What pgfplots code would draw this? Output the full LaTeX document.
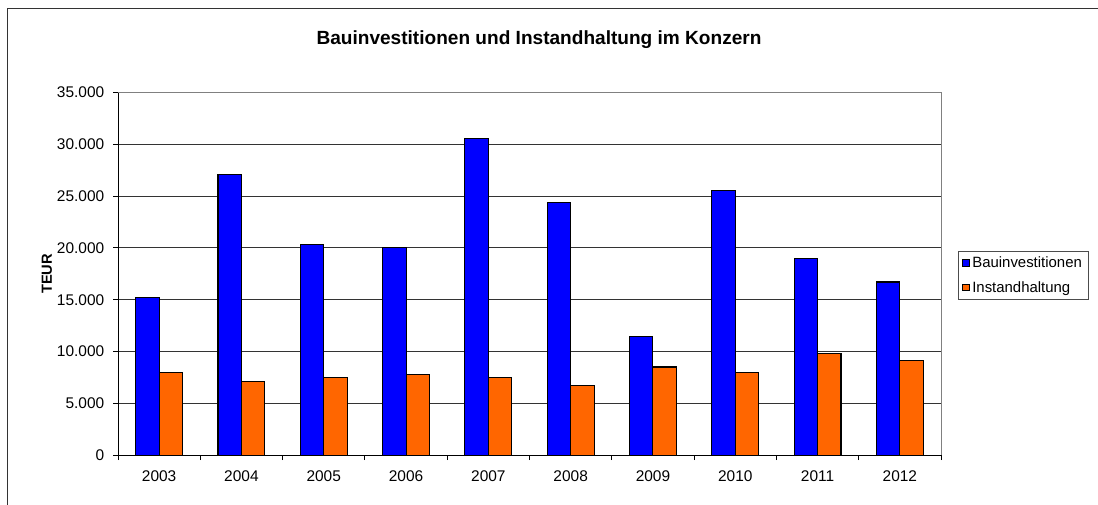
\documentclass[border=0pt]{standalone}
\usepackage{fontspec}
\setmainfont{Liberation Sans}
\usepackage{pgfplots}
\pgfplotsset{compat=1.18}
\definecolor{xlblue}{RGB}{0,0,255}
\definecolor{xlorange}{RGB}{255,102,0}

\begin{document}
\begin{tikzpicture}[x=0.75pt,y=0.75pt]
% picture measured in pixels of the reference, y upwards
\useasboundingbox (0,0) rectangle (1098,505);
\draw[black!80, line width=0.75pt] (7,0) -- (7,496) -- (1098,496);
\node[font=\bfseries\fontsize{14.3}{16}\selectfont, anchor=base] at (539,460)
  {Bauinvestitionen und Instandhaltung im Konzern};

\begin{axis}[
    at={(88.5pt,37.43pt)}, anchor=south west,
    scale only axis, width=617.25pt, height=271.95pt,
    ybar=0pt, bar width=0.285,
    xmin=-0.5, xmax=9.5, ymin=0, ymax=35000,
    axis lines*=left, axis line style={-, black, line width=0.75pt},
    xtick={-0.5,0.5,...,9.5}, xticklabels={},
    extra x ticks={0,...,9},
    extra x tick labels={2003,2004,2005,2006,2007,2008,2009,2010,2011,2012},
    extra x tick style={major tick length=0pt},
    ytick={0,5000,...,35000},
    scaled y ticks=false,
    /pgf/number format/.cd, 1000 sep={.}, assume math mode=true, /pgfplots/.cd,
    tick align=outside, major tick length=3.75pt,
    tick style={black, line width=0.75pt},
    ticklabel style={font=\fontsize{11.6}{13}\selectfont},
    xticklabel style={yshift=-8pt},
    yticklabel style={xshift=-3pt},
    ymajorgrids, grid style={black!80, line width=0.75pt},
    ylabel={TEUR},
    every axis y label/.style={at={(axis description cs:-0.0863,0.5)}, rotate=90, anchor=center,
        font=\bfseries\fontsize{11}{13}\selectfont},
    legend style={at={(axis description cs:1.0207,0.5637)}, anchor=north west,
        draw=black!70, line width=0.6pt, font=\fontsize{11.2}{13}\selectfont,
        inner xsep=3pt, inner ysep=2pt, row sep=5pt},
    legend cell align=left,
    legend image code/.code={\draw[#1,draw=black,line width=0.6pt] (0pt,-2.4pt) rectangle (4.8pt,2.4pt);},
    after end axis/.code={\draw[gray, line width=0.75pt] (rel axis cs:0,1) -- (rel axis cs:1,1) -- (rel axis cs:1,0);},
]
\addplot[fill=xlblue, draw=black, line width=0.8pt] coordinates {
    (0,15200) (1,27100) (2,20300) (3,20000) (4,30600)
    (5,24360) (6,11430) (7,25520) (8,18960) (9,16710)
};
\addplot[fill=xlorange, draw=black, line width=0.8pt] coordinates {
    (0,7990) (1,7090) (2,7470) (3,7800) (4,7470)
    (5,6700) (6,8500) (7,7930) (8,9790) (9,9110)
};
\legend{Bauinvestitionen,Instandhaltung}
\end{axis}
\end{tikzpicture}
\end{document}
